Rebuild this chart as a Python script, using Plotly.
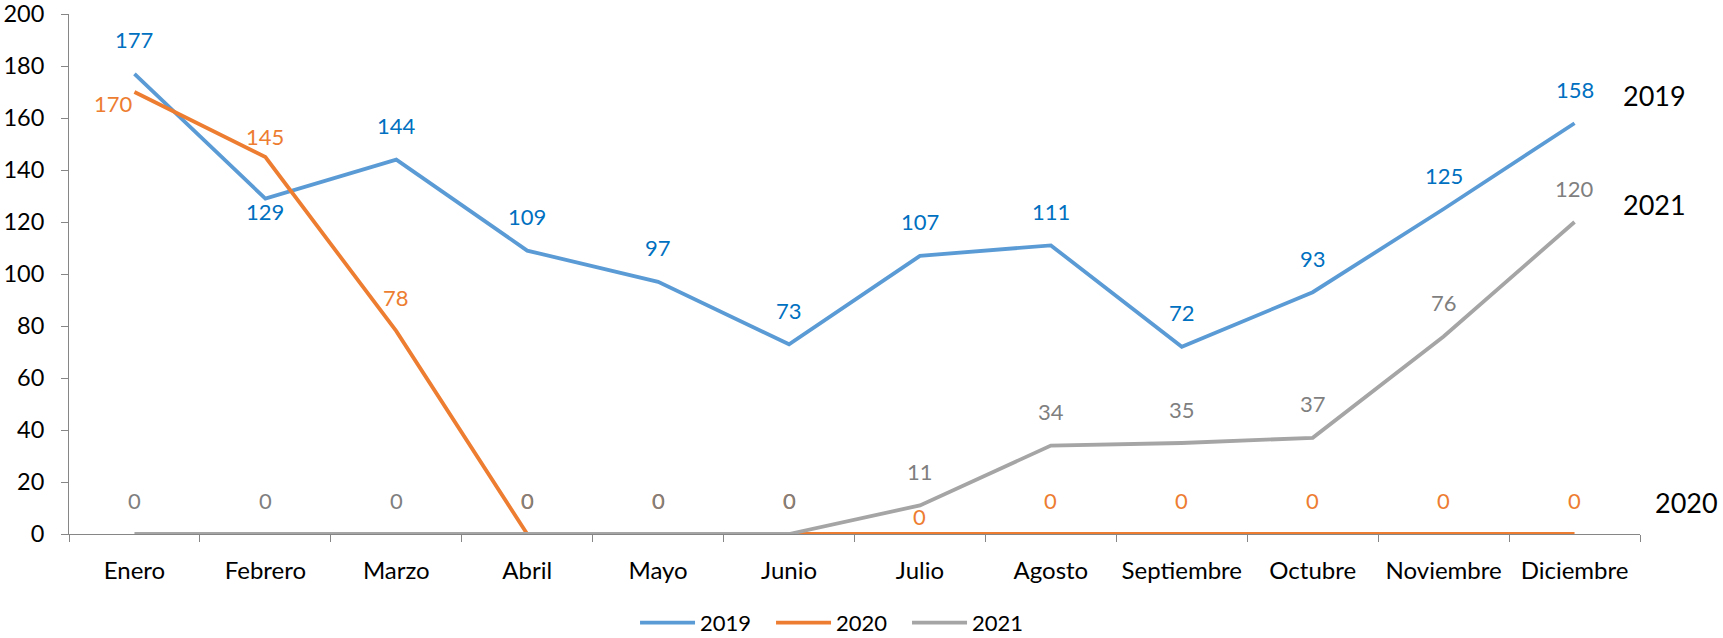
import plotly.graph_objects as go

# === Datos ===
meses = ["Enero", "Febrero", "Marzo", "Abril", "Mayo", "Junio", "Julio",
         "Agosto", "Septiembre", "Octubre", "Noviembre", "Diciembre"]
v2019 = [177, 129, 144, 109, 97, 73, 107, 111, 72, 93, 125, 158]
v2020 = [170, 145, 78, 0, 0, 0, 0, 0, 0, 0, 0, 0]
v2021 = [0, 0, 0, 0, 0, 0, 11, 34, 35, 37, 76, 120]
y_ticks = [0, 20, 40, 60, 80, 100, 120, 140, 160, 180, 200]

FONT = "Lato"

series = [
    ("2019", v2019, "#5B9BD5", "#0070C0"),
    ("2020", v2020, "#ED7D31", "#ED7D31"),
    ("2021", v2021, "#A5A5A5", "#7F7F7F"),
]

# label offsets (xshift, yshift) that differ from the default "above"
offsets = {
    ("2019", 1): (0, -13),
    ("2020", 0): (-21, -11),
    ("2020", 1): (0, 21),
    ("2020", 6): (0, 18),
}

fig = go.Figure()
for name, vals, line_col, lab_col in series:
    fig.add_trace(go.Scatter(
        x=meses, y=vals, name=name, mode="lines",
        line=dict(color=line_col, width=3.8),
        cliponaxis=False, hoverinfo="skip"
    ))

annotations = []
for name, vals, line_col, lab_col in series:
    for i, v in enumerate(vals):
        dx, dy = offsets.get((name, i), (0, 34))
        annotations.append(dict(
            x=meses[i], y=v, xref="x", yref="y", text=str(v),
            showarrow=False, xshift=dx, yshift=dy,
            font=dict(family=FONT, size=22, color=lab_col)
        ))

# series names on the right
for name, xp, yp in [("2019", 1.0095, 0.844), ("2021", 1.0095, 0.633), ("2020", 1.0295, 0.0615)]:
    annotations.append(dict(
        x=xp, y=yp, xref="paper", yref="paper", text=name, showarrow=False,
        xanchor="center", yanchor="middle",
        font=dict(family=FONT, size=27, color="#000000")
    ))

fig.update_layout(
    width=1723, height=638,
    margin=dict(l=69, r=83, t=14, b=104, autoexpand=False),
    paper_bgcolor="white", plot_bgcolor="white",
    font=dict(family=FONT, color="#000000"),
    annotations=annotations,
    showlegend=True,
    legend=dict(orientation="h", x=0.3603, xanchor="left", y=-0.171, yanchor="middle",
                font=dict(family=FONT, size=22, color="#000000"), itemwidth=55,
                entrywidth=66, entrywidthmode="pixels", traceorder="normal"),
)
fig.update_xaxes(
    type="category", range=[-0.5, 11.5], tickson="boundaries",
    ticks="outside", ticklen=7, tickcolor="#868686",
    showline=True, linecolor="#868686", linewidth=1,
    showgrid=False, zeroline=False, layer="below traces", automargin=False,
    tickfont=dict(family=FONT, size=24, color="#000000"),
    ticklabelstandoff=15,
)
fig.update_yaxes(
    range=[0, 200.01], tickvals=y_ticks,
    ticks="outside", ticklen=7, tickcolor="#868686",
    showline=True, linecolor="#868686", linewidth=1,
    showgrid=False, zeroline=False, layer="below traces", automargin=False,
    tickfont=dict(family=FONT, size=23.5, color="#000000"),
    ticklabelstandoff=12, ticklabeloverflow="allow",
)

fig.write_html("out.html", config={"displayModeBar": False},
               post_script="document.body.style.margin='0';")
